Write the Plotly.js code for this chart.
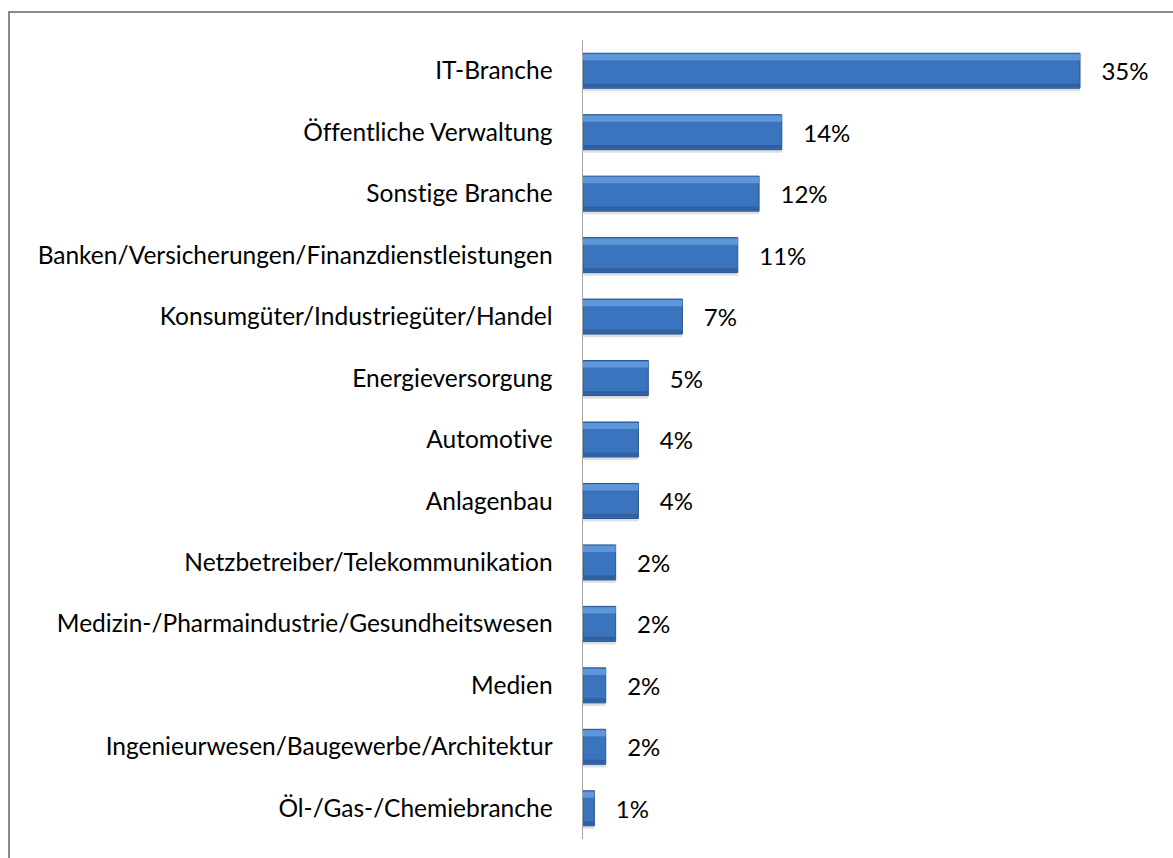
<!DOCTYPE html>
<html>
<head>
<meta charset="utf-8">
<script src="https://cdn.plot.ly/plotly-3.0.1.min.js"></script>
<style>
  html, body { margin: 0; padding: 0; background: #fff; }
  #wrap { position: relative; width: 1173px; height: 858px; overflow: hidden; }
  #chart { position: absolute; left: 0; top: 0; width: 1173px; height: 858px; }
  #frame { position: absolute; left: 8px; top: 11px; width: 1200px; height: 900px;
           border-top: 2px solid #8a8a8a; border-left: 2px solid #8a8a8a; pointer-events: none; }
  #chart text { font-variant-ligatures: none !important; font-feature-settings: "liga" 0, "clig" 0 !important; }
</style>
</head>
<body>
<div id="wrap">
  <div id="chart"></div>
  <div id="frame"></div>
</div>
<script>
const categories = [
  "IT-Branche",
  "Öffentliche Verwaltung",
  "Sonstige Branche",
  "Banken/Versicherungen/Finanzdienstleistungen",
  "Konsumgüter/Industriegüter/Handel",
  "Energieversorgung",
  "Automotive",
  "Anlagenbau",
  "Netzbetreiber/Telekommunikation",
  "Medizin-/Pharmaindustrie/Gesundheitswesen",
  "Medien",
  "Ingenieurwesen/Baugewerbe/Architektur",
  "Öl-/Gas-/Chemiebranche"
];
const values = [35.0, 14.0, 12.4, 10.9, 7.0, 4.6, 3.9, 3.9, 2.3, 2.3, 1.6, 1.6, 0.8];

const NB = "\u00a0\u00a0\u00a0";
const FONT = "Lato, 'Open Sans', sans-serif";

const shadow = {
  type: "bar", orientation: "h", x: values, y: categories,
  width: 0.05, offset: 0.285,
  marker: { color: "rgba(0,0,0,0.12)" },
  hoverinfo: "skip", showlegend: false
};
const main = {
  type: "bar", orientation: "h", x: values, y: categories,
  width: 0.57,
  marker: { color: "#3a74bf", line: { color: "#2a5590", width: 1 } },
  texttemplate: NB + "%{x:.0f}%",
  textposition: "outside",
  constraintext: "none",
  cliponaxis: false,
  textfont: { family: FONT, size: 24, color: "#000" },
  hoverinfo: "x+y", showlegend: false
};
const highlight = {
  type: "bar", orientation: "h", x: values, y: categories,
  width: 0.1, offset: -0.27,
  marker: { color: "#5e96da", line: { width: 0 } },
  hoverinfo: "skip", showlegend: false
};
const lowedge = {
  type: "bar", orientation: "h", x: values, y: categories,
  width: 0.06, offset: 0.21,
  marker: { color: "#30609f", line: { width: 0 } },
  hoverinfo: "skip", showlegend: false
};

const layout = {
  width: 1173, height: 858,
  margin: { l: 583, r: 22, t: 40, b: 19 },
  paper_bgcolor: "#ffffff", plot_bgcolor: "#ffffff",
  barmode: "overlay",
  showlegend: false,
  font: { family: FONT, size: 24, color: "#000" },
  xaxis: {
    range: [0, 40], showgrid: false, zeroline: false, showline: false,
    showticklabels: false, ticks: "", fixedrange: true
  },
  yaxis: {
    autorange: "reversed", type: "category",
    showline: true, linecolor: "#a6a6a6", linewidth: 1.5,
    showgrid: false, zeroline: false, ticks: "",
    ticklabelstandoff: 24,
    tickfont: { family: FONT, size: 24.5, color: "#000" }
  }
};

Plotly.newPlot("chart", [shadow, main, highlight, lowedge], layout, { displayModeBar: false, staticPlot: true });
</script>
</body>
</html>
